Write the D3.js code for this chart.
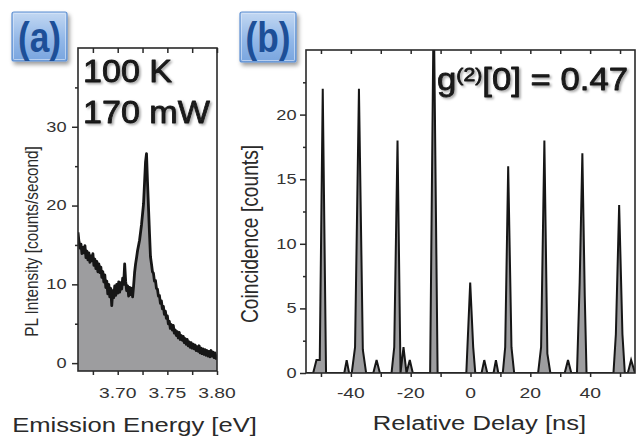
<!DOCTYPE html>
<html><head><meta charset="utf-8">
<script src="https://cdn.jsdelivr.net/npm/d3@7"></script>
<style>html,body{margin:0;padding:0;background:#fff;}svg{display:block;}</style>
</head><body>
<svg id="c" width="636" height="436"></svg>
<script>
// ---------- data ----------
const specEnergy = [3.660,3.661,3.662,3.663,3.664,3.665,3.666,3.667,3.668,3.669,3.670,3.671,3.672,3.673,3.674,3.675,3.676,3.677,3.678,3.679,3.680,3.681,3.682,3.683,3.684,3.685,3.686,3.687,3.688,3.689,3.690,3.691,3.692,3.693,3.694,3.695,3.696,3.697,3.698,3.699,3.700,3.701,3.702,3.703,3.704,3.705,3.706,3.707,3.708,3.709,3.710,3.711,3.712,3.713,3.714,3.715,3.716,3.717,3.718,3.719,3.720,3.722,3.724,3.726,3.728,3.729,3.730,3.732,3.733,3.734,3.735,3.736,3.737,3.738,3.739,3.740,3.741,3.742,3.743,3.744,3.745,3.746,3.747,3.748,3.749,3.750,3.751,3.752,3.753,3.754,3.755,3.756,3.757,3.758,3.759,3.760,3.761,3.762,3.763,3.764,3.765,3.766,3.767,3.768,3.769,3.770,3.771,3.772,3.773,3.774,3.775,3.776,3.777,3.778,3.779,3.780,3.781,3.782,3.783,3.784,3.785,3.786,3.787,3.788,3.789,3.790,3.791,3.792,3.793,3.794,3.795,3.796,3.797,3.798,3.799,3.800];
const specIntensity = [16.6,15.4,14.6,15.1,13.9,14.7,14.0,14.9,13.4,14.2,13.1,14.0,12.8,13.6,13.0,13.9,12.4,13.2,12.0,12.9,11.6,12.6,11.5,12.2,10.9,11.6,10.3,11.2,9.6,10.4,8.8,10.0,8.4,9.5,7.3,9.2,8.3,9.8,8.6,10.0,8.9,10.3,9.0,10.2,9.4,10.8,10.0,12.6,10.4,9.2,9.8,8.5,9.6,8.7,9.5,8.4,9.8,11.5,12.6,13.4,14.3,15.6,17.6,20.2,25.5,26.6,23.0,16.5,13.5,12.6,11.6,11.4,10.4,10.5,9.5,9.4,8.5,8.6,7.6,7.9,6.9,7.2,6.2,6.6,5.7,6.0,5.0,5.3,4.4,4.9,4.2,4.8,3.8,4.2,3.5,4.0,3.2,3.9,3.0,3.5,2.9,3.4,2.6,3.1,2.4,3.0,2.2,2.7,2.0,2.6,1.9,2.4,1.8,2.3,1.6,2.1,1.5,2.2,1.3,1.9,1.2,1.8,1.1,1.7,1.0,1.6,0.9,1.5,0.8,1.6,0.9,1.4,0.7,1.3,0.6,1.1];

const delayNs = [-55,-52.6,-51.5,-50.4,-49.4,-48.3,-42.2,-41.4,-40.6,-39.7,-38.6,-37.3,-36.0,-34.9,-32.5,-31.4,-30.3,-26.4,-25.5,-24.4,-23.4,-22.4,-21.4,-20.3,-19.3,-13.5,-12.3,-11.0,-1.4,-0.1,0.9,1.6,3.7,4.6,5.6,7.7,8.5,9.3,10.8,11.6,12.6,13.7,14.6,22.6,23.6,24.7,25.7,26.7,31.5,32.6,33.7,35.6,36.5,37.4,38.2,38.8,47.8,48.6,49.7,50.8,51.6,52.6,53.7,55];
const coincCounts = [0,0,1,1,22,0,0,1,0,0,2,22,1.8,0,0,1,0,0,2,18,0,2,0,1,0,0,29,0,0,7,2,0,0,1,0,0,1,0,0,2,16,2,0,0,2,18,1.5,0,0,1,0,0,7,17,6,0,0,3,13,3,0,0,1,0];

const aXTicks = [3.675,3.700,3.725,3.750,3.775,3.800];
const aXLabels = [3.70,3.75,3.80];
const aYMajor = [0,10,20,30];
const aYMinor = [5,15,25,35];
const bXTicks = [-50,-40,-30,-20,-10,0,10,20,30,40,50];
const bXLabels = [-40,-20,0,20,40];
const bYMajor = [0,5,10,15,20];
const bYMinor = [2.5,7.5,12.5,17.5,22.5];

// ---------- setup ----------
const svg = d3.select("#c");
const FONT = "'Liberation Sans', Arial, Helvetica, sans-serif";
const defs = svg.append("defs");
const sh = defs.append("filter").attr("id","tsh").attr("x","-10%").attr("y","-20%").attr("width","130%").attr("height","150%");
sh.append("feDropShadow").attr("dx",1.6).attr("dy",1.6).attr("stdDeviation",1).attr("flood-color","#000").attr("flood-opacity",0.35);
const bsh = defs.append("filter").attr("id","bsh").attr("x","-20%").attr("y","-20%").attr("width","150%").attr("height","150%");
bsh.append("feDropShadow").attr("dx",2).attr("dy",3).attr("stdDeviation",2).attr("flood-color","#000").attr("flood-opacity",0.4);
const grad = defs.append("linearGradient").attr("id","bg").attr("x1",0).attr("y1",0).attr("x2",0).attr("y2",1);
grad.append("stop").attr("offset","0%").attr("stop-color","#c3d8f2");
grad.append("stop").attr("offset","55%").attr("stop-color","#93b8e8");
grad.append("stop").attr("offset","100%").attr("stop-color","#79a5df");

function stext(g, x, y, str, size, anchor, sx, opt) {
  opt = opt || {};
  const t = g.append("text")
    .attr("transform", `translate(${x},${y}) scale(${sx},1)` + (opt.rot ? ` rotate(${opt.rot})` : ""))
    .attr("font-family", FONT).attr("font-size", size)
    .attr("text-anchor", anchor).attr("fill", opt.fill || "#222")
    .attr("font-weight", opt.weight || "normal");
  if (opt.dy) t.attr("dy", opt.dy);
  if (opt.filter) t.attr("filter", opt.filter);
  if (opt.stroke) t.attr("stroke", opt.fill || "#222").attr("stroke-width", opt.stroke).attr("stroke-linejoin","round");
  t.text(str);
  return t;
}

function styleAxis(g) {
  g.select(".domain").remove();
  g.selectAll(".tick line").attr("stroke","#2a2a2a").attr("stroke-width",1.5);
  g.selectAll(".tick text").remove();
}

// ---------- panel (a) ----------
const A = {l:78, r:217, t:48, b:371};
const ax = d3.scaleLinear().domain([3.66,3.80]).range([A.l,A.r]);
const ay = d3.scaleLinear().domain([-1,40]).range([A.b,A.t]);
defs.append("clipPath").attr("id","clipA").append("rect").attr("x",A.l).attr("y",A.t).attr("width",A.r-A.l).attr("height",A.b-A.t);
const gA = svg.append("g");
const specData = specEnergy.map((e,i)=>({e, v:specIntensity[i]}));
gA.append("path").datum(specData).attr("clip-path","url(#clipA)")
  .attr("d", d3.area().x(d=>ax(d.e)).y0(ay(-1)).y1(d=>ay(d.v)))
  .attr("fill","#9d9d9f");
gA.append("path").datum(specData).attr("clip-path","url(#clipA)")
  .attr("d", d3.line().x(d=>ax(d.e)).y(d=>ay(d.v)))
  .attr("fill","none").attr("stroke","#161616").attr("stroke-width",2.8).attr("stroke-linejoin","round");

styleAxis(gA.append("g").attr("transform",`translate(0,${A.b})`).call(d3.axisBottom(ax).tickValues(aXTicks).tickSize(4)));
styleAxis(gA.append("g").attr("transform",`translate(0,${A.t})`).call(d3.axisBottom(ax).tickValues(aXTicks).tickSize(5)));
styleAxis(gA.append("g").attr("transform",`translate(${A.l},0)`).call(d3.axisLeft(ay).tickValues(aYMajor).tickSize(6)));
styleAxis(gA.append("g").attr("transform",`translate(${A.l},0)`).call(d3.axisLeft(ay).tickValues(aYMinor).tickSize(3)));
gA.append("rect").attr("x",A.l).attr("y",A.t).attr("width",A.r-A.l).attr("height",A.b-A.t)
  .attr("fill","none").attr("stroke","#2a2a2a").attr("stroke-width",1.6);

aXLabels.forEach(v => stext(gA, ax(v), 398, d3.format(".2f")(v), 14, "middle", 1.38, {fill:"#333"}));
aYMajor.forEach(v => stext(gA, 66.5, ay(v), String(v), 14, "end", 1.3, {fill:"#333", dy:"0.35em"}));
stext(gA, 134.5, 432, "Emission Energy [eV]", 21, "middle", 1.22, {fill:"#2a2a2a"});
stext(gA, 38.3, 241.5, "PL Intensity [counts/second]", 15.3, "middle", 1.19, {fill:"#2a2a2a", rot:-90});
stext(gA, 83, 82, "100 K", 31, "start", 1.1, {fill:"#1a1a1a", filter:"url(#tsh)", stroke:0.8});
stext(gA, 83, 123, "170 mW", 31, "start", 1.1, {fill:"#1a1a1a", filter:"url(#tsh)", stroke:0.8});

// ---------- panel (b) ----------
const B = {l:306, r:635, t:50, b:373};
const bx = d3.scaleLinear().domain([-55,55]).range([B.l,B.r]);
const by = d3.scaleLinear().domain([0,25]).range([B.b,B.t]);
defs.append("clipPath").attr("id","clipB").append("rect").attr("x",B.l).attr("y",B.t).attr("width",B.r-B.l).attr("height",B.b-B.t);
const gB = svg.append("g");
const coincData = delayNs.map((t,i)=>({t, c:coincCounts[i]}));
gB.append("path").datum(coincData).attr("clip-path","url(#clipB)")
  .attr("d", d3.area().x(d=>bx(d.t)).y0(by(0)).y1(d=>by(d.c)))
  .attr("fill","#9d9d9f");
gB.append("path").datum(coincData).attr("clip-path","url(#clipB)")
  .attr("d", d3.line().x(d=>bx(d.t)).y(d=>by(d.c)))
  .attr("fill","none").attr("stroke","#161616").attr("stroke-width",2);

styleAxis(gB.append("g").attr("transform",`translate(0,${B.b})`).call(d3.axisBottom(bx).tickValues(bXTicks).tickSize(4)));
styleAxis(gB.append("g").attr("transform",`translate(0,${B.t})`).call(d3.axisBottom(bx).tickValues(bXTicks).tickSize(4)));
styleAxis(gB.append("g").attr("transform",`translate(${B.l},0)`).call(d3.axisLeft(by).tickValues(bYMajor).tickSize(6)));
styleAxis(gB.append("g").attr("transform",`translate(${B.l},0)`).call(d3.axisLeft(by).tickValues(bYMinor).tickSize(3)));
gB.append("rect").attr("x",B.l).attr("y",B.t).attr("width",B.r-B.l).attr("height",B.b-B.t)
  .attr("fill","none").attr("stroke","#2a2a2a").attr("stroke-width",1.6);

bXLabels.forEach(v => stext(gB, bx(v), 398, String(v), 14, "middle", 1.38, {fill:"#333"}));
bYMajor.forEach(v => stext(gB, 296.5, by(v), String(v), 14, "end", 1.3, {fill:"#333", dy:"0.35em"}));
stext(gB, 479.5, 430, "Relative Delay [ns]", 21, "middle", 1.22, {fill:"#2a2a2a"});
stext(gB, 258.3, 234, "Coincidence [counts]", 19.2, "middle", 1.28, {fill:"#2a2a2a", rot:-90});
const gt = stext(gB, 437, 90, "", 31, "start", 1.12, {fill:"#1a1a1a", filter:"url(#tsh)", stroke:0.8});
gt.append("tspan").text("g");
gt.append("tspan").attr("font-size",19).attr("dy",-9).text("(2)");
gt.append("tspan").attr("dy",9).text("[0] = 0.47");

// ---------- panel labels ----------
function panelLabel(x, y, w, h, str) {
  const g = svg.append("g");
  g.append("rect").attr("x",x).attr("y",y).attr("width",w).attr("height",h).attr("rx",2)
    .attr("fill","url(#bg)").attr("stroke","#5e90d2").attr("stroke-width",1.2).attr("filter","url(#bsh)");
  g.append("rect").attr("x",x+1.5).attr("y",y+1.5).attr("width",w-3).attr("height",h-3).attr("rx",1)
    .attr("fill","none").attr("stroke","#dbe8f8").attr("stroke-width",0.8).attr("opacity",0.8);
  stext(g, x+w/2, y+39.5, str, 42, "middle", 0.84, {fill:"#1d4f98", weight:"bold"});
}
panelLabel(12, 12, 55, 49, "(a)");
panelLabel(240, 12, 56, 50, "(b)");
</script>
</body></html>
